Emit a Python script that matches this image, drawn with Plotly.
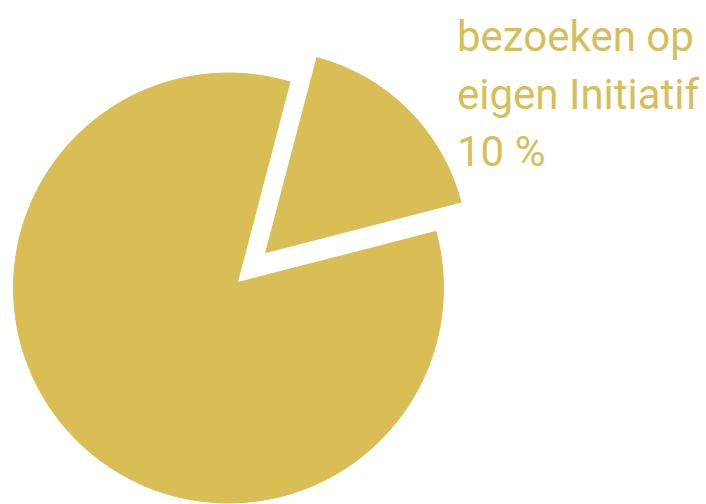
import plotly.graph_objects as go

# Data
categories = ["bezoeken op eigen Initiatif", "overig"]
values = [16.9, 83.1]
label_lines = ["bezoeken op", "eigen Initiatif", "10 %"]

GOLD = "#D8BE55"
TEXT_GOLD = "#D6BE5A"
W, H = 706, 504

def dom(cx, cy, r):
    # convert pixel centre/radius to paper domain
    return dict(x=[(cx - r) / W, (cx + r) / W],
                y=[(H - cy - r) / H, (H - cy + r) / H])

common = dict(labels=categories, values=values, sort=False, direction="clockwise",
              rotation=14.7, textinfo="none", hoverinfo="skip", showlegend=False)

fig = go.Figure()
# full gold disc (main pie body)
fig.add_trace(go.Pie(**common, domain=dom(228.5, 288, 215),
                     marker=dict(colors=[GOLD, GOLD], line=dict(color=GOLD, width=1))))
# white notch where the slice was pulled out
d2 = dom(238, 282, 222)
d2["y"][0] = max(0, d2["y"][0])
fig.add_trace(go.Pie(**common, domain=d2,
                     marker=dict(colors=["white", "rgba(0,0,0,0)"], line=dict(width=0))))
# pulled-out slice
fig.add_trace(go.Pie(**common, domain=dom(265, 253.3, 203),
                     marker=dict(colors=[GOLD, "rgba(0,0,0,0)"], line=dict(width=0))))

ys = [37, 94, 151]
for txt, y in zip(label_lines, ys):
    fig.add_annotation(text=txt, x=455 / W, y=1 - y / H, xref="paper", yref="paper",
                       xanchor="left", yanchor="middle", showarrow=False,
                       font=dict(family="Roboto", size=42, color=TEXT_GOLD))

fig.update_layout(width=W, height=H, margin=dict(l=0, r=0, t=0, b=0),
                  paper_bgcolor="white", plot_bgcolor="white")
fig.write_html("out.html", config={"displayModeBar": False},
               post_script="document.body.style.margin='0';document.body.style.overflow='hidden';")
